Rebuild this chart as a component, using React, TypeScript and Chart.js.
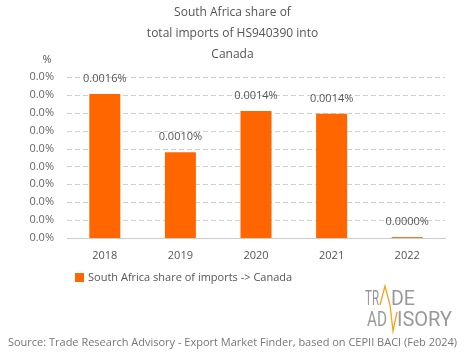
import { useEffect, useRef } from "react";
import { Chart, registerables } from "chart.js";

Chart.register(...registerables);

const years = ["2018", "2019", "2020", "2021", "2022"];
const shareValues = [0.00161, 0.00096, 0.00142, 0.00139, 0.00001];
const titleLines = ["South Africa share of", "total imports of HS940390 into", "Canada"];
const seriesName = "South Africa share of imports -> Canada";
const yAxisUnit = "%";
const yMax = 0.0018;
const yStep = 0.0002;
const sourceText =
  "Source: Trade Research Advisory - Export Market Finder, based on CEPII BACI (Feb 2024)";

const FONT = "'Open Sans', 'Noto Sans', sans-serif";
const ORANGE = "#ff6600";

function fitText(ctx: CanvasRenderingContext2D, text: string, x: number, y: number, w: number) {
  const m = ctx.measureText(text).width;
  ctx.save();
  ctx.translate(x, y);
  ctx.scale(w / m, 1);
  ctx.fillText(text, 0, 0);
  ctx.restore();
}

const decorPlugin = {
  id: "decor",
  beforeDatasetsDraw(chart: any) {
    const ctx: CanvasRenderingContext2D = chart.ctx;
    const ys = chart.scales.y;
    const { left, right } = chart.chartArea;
    ctx.save();
    ctx.strokeStyle = "#d0d0d0";
    ctx.lineWidth = 1;
    ctx.setLineDash([5, 3]);
    ys.ticks.forEach((t: any) => {
      if (t.value === 0) return;
      const y = Math.round(ys.getPixelForValue(t.value)) + 0.5;
      ctx.beginPath();
      ctx.moveTo(left, y);
      ctx.lineTo(right, y);
      ctx.stroke();
    });
    ctx.restore();
  },
  afterDatasetsDraw(chart: any) {
    const ctx: CanvasRenderingContext2D = chart.ctx;
    ctx.save();
    ctx.font = `11px ${FONT}`;
    ctx.fillStyle = "#555";
    ctx.textAlign = "center";
    ctx.textBaseline = "middle";
    const meta = chart.getDatasetMeta(0);
    meta.data.forEach((el: any, i: number) => {
      const v = shareValues[i];
      ctx.fillText(v.toFixed(4) + "%", el.x, el.y - 15);
    });
    ctx.restore();
  },
  afterDraw(chart: any) {
    const ctx: CanvasRenderingContext2D = chart.ctx;
    const W = chart.width;
    ctx.save();
    ctx.font = `12px ${FONT}`;
    ctx.fillStyle = "#555";
    ctx.textAlign = "center";
    ctx.textBaseline = "middle";
    titleLines.forEach((t, i) => ctx.fillText(t, W / 2, 13 + i * 21));
    ctx.font = `11px ${FONT}`;
    ctx.fillText(yAxisUnit, 47, 60);
    ctx.fillStyle = ORANGE;
    ctx.fillRect(75, 273, 9, 9);
    ctx.fillStyle = "#555";
    ctx.textAlign = "left";
    ctx.fillText(seriesName, 88, 278);
    ctx.fillStyle = "#777";
    ctx.textAlign = "center";
    ctx.fillText(sourceText, W / 2, 343);
    ctx.fillStyle = "#999";
    ctx.textAlign = "left";
    ctx.textBaseline = "alphabetic";
    ctx.font = `20px Roboto, ${FONT}`;
    fitText(ctx, "TR", 365, 305, 14);
    fitText(ctx, "DE", 391, 305, 24);
    fitText(ctx, "AD", 367, 326, 20);
    fitText(ctx, "ISORY", 397, 326, 55);
    ctx.strokeStyle = "#f5a31a";
    ctx.lineWidth = 1.3;
    ctx.beginPath();
    ctx.moveTo(380, 305);
    ctx.lineTo(385, 286);
    ctx.lineTo(390, 305);
    ctx.lineTo(393, 331);
    ctx.lineTo(397, 312);
    ctx.stroke();
    ctx.restore();
  },
};

export default function App() {
  const ref = useRef<HTMLCanvasElement | null>(null);
  useEffect(() => {
    document.body.style.margin = "0";
    const chart = new Chart(ref.current!, {
      type: "bar",
      data: {
        labels: years,
        datasets: [
          {
            label: seriesName,
            data: shareValues,
            backgroundColor: ORANGE,
            borderWidth: 0,
            barPercentage: 0.41,
            categoryPercentage: 1,
          },
        ],
      },
      options: {
        animation: false,
        responsive: false,
        maintainAspectRatio: false,
        layout: { padding: { top: 77, left: 0, right: 20, bottom: 91 } },
        plugins: {
          legend: { display: false },
          title: { display: false },
          tooltip: { enabled: false },
        },
        scales: {
          x: {
            grid: { display: false, drawTicks: false },
            border: { display: true, color: "#ccc" },
            ticks: { color: "#555", font: { family: FONT, size: 11 }, padding: 11 },
            afterFit: (s: any) => {
              s.height = 30;
            },
          },
          y: {
            min: 0,
            max: yMax,
            grid: { display: false, drawTicks: false },
            border: { display: false },
            ticks: {
              stepSize: yStep,
              color: "#666",
              padding: 13,
              font: { family: FONT, size: 11 },
              callback: (v: any) => Number(v).toFixed(1) + "%",
            },
            afterFit: (s: any) => {
              s.width = 67;
            },
          },
        },
      },
      plugins: [decorPlugin],
    } as any);
    return () => chart.destroy();
  }, []);
  return <canvas ref={ref} width={465} height={359} style={{ display: "block" }} />;
}
